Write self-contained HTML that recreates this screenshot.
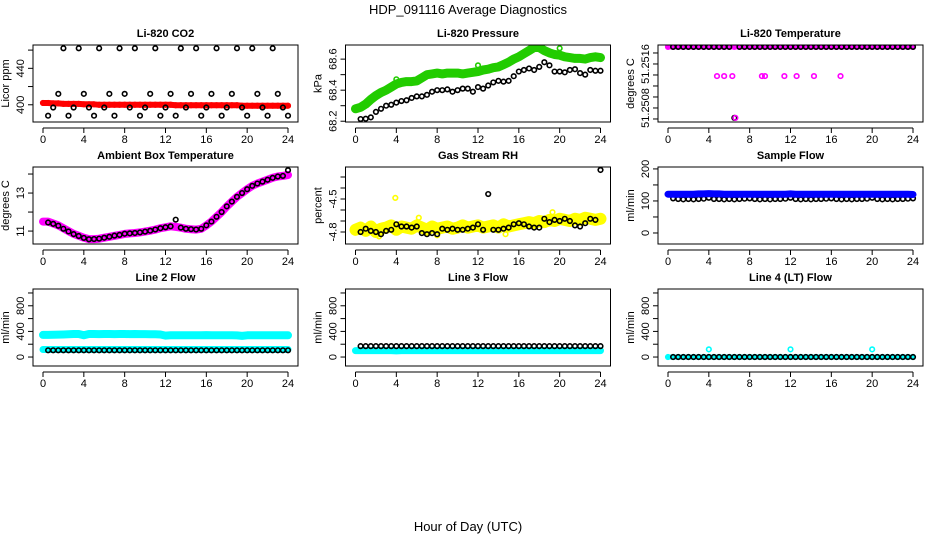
<!DOCTYPE html>
<html><head><meta charset="utf-8"><style>
body{margin:0;background:#fff}
svg{display:block;font-family:"Liberation Sans",sans-serif}
</style></head><body>
<svg id="c" width="936" height="540">
<text x="468" y="14" text-anchor="middle" font-size="13">HDP_091116  Average Diagnostics</text>
<text x="468" y="531" text-anchor="middle" font-size="13">Hour of Day (UTC)</text>
</svg>
<script>
const hoursDense=[0,0.5,1,1.5,2,2.5,3,3.5,4,4.5,5,5.5,6,6.5,7,7.5,8,8.5,9,9.5,10,10.5,11,11.5,12,12.5,13,13.5,14,14.5,15,15.5,16,16.5,17,17.5,18,18.5,19,19.5,20,20.5,21,21.5,22,22.5,23,23.5,24];
const hoursAvg=[0.5,1,1.5,2,2.5,3,3.5,4,4.5,5,5.5,6,6.5,7,7.5,8,8.5,9,9.5,10,10.5,11,11.5,12,12.5,13,13.5,14,14.5,15,15.5,16,16.5,17,17.5,18,18.5,19,19.5,20,20.5,21,21.5,22,22.5,23,23.5,24];
const xTicks=[0,4,8,12,16,20,24];
// CO2
const co2Dense=[402,402,401.5,401.5,401,401,401,401,400.5,400.5,400.5,400,400,400,400,400,400,400,400,400,400,400,400,400,400,400,399.5,399.5,399.5,399.5,399.5,399.5,399.5,399.5,399.5,399.5,399.5,399.5,399.5,399,399,399,399,399,399,399,399,399,399];
const co2Avg=[388,397,412,462,388,397,462,412,397,388,462,397,412,388,462,412,397,462,388,397,412,462,388,397,412,388,462,397,412,462,388,397,412,462,388,397,412,462,397,388,462,412,397,388,462,412,397,388];
// Pressure
const presDense=[68.28,68.29,68.31,68.34,68.365,68.385,68.40,68.42,68.44,68.45,68.455,68.455,68.46,68.48,68.50,68.505,68.51,68.505,68.51,68.51,68.51,68.505,68.51,68.515,68.52,68.53,68.535,68.545,68.55,68.565,68.58,68.60,68.615,68.635,68.655,68.675,68.675,68.655,68.64,68.63,68.625,68.615,68.61,68.605,68.605,68.60,68.61,68.615,68.61];
const presAvg=[68.214,68.216,68.225,68.26,68.28,68.30,68.306,68.32,68.33,68.335,68.35,68.36,68.36,68.37,68.39,68.40,68.40,68.405,68.39,68.40,68.41,68.41,68.39,68.42,68.41,68.43,68.45,68.46,68.455,68.46,68.49,68.52,68.53,68.54,68.53,68.55,68.58,68.56,68.52,68.52,68.515,68.53,68.535,68.51,68.50,68.53,68.525,68.525];
// Temperature
const tempDense=[51.25191,51.25191,51.25191,51.25191,51.25191,51.25191,51.25191,51.25191,51.25191,51.25191,51.25191,51.25191,51.25191,51.25191,51.25191,51.25191,51.25191,51.25191,51.25191,51.25191,51.25191,51.25191,51.25191,51.25191,51.25191,51.25191,51.25191,51.25191,51.25191,51.25191,51.25191,51.25191,51.25191,51.25191,51.25191,51.25191,51.25191,51.25191,51.25191,51.25191,51.25191,51.25191,51.25191,51.25191,51.25191,51.25191,51.25191,51.25191,51.25191];
const tempMidHours=[4.8,5.5,6.3,9.2,9.5,11.4,12.6,14.3,16.9,6.6];
const tempMidVals=[51.25138,51.25138,51.25138,51.25138,51.25138,51.25138,51.25138,51.25138,51.25138,51.25062];
const tempAvg=[51.25191,51.25191,51.25191,51.25191,51.25191,51.25191,51.25191,51.25191,51.25191,51.25191,51.25191,51.25191,51.25062,51.25191,51.25191,51.25191,51.25191,51.25191,51.25191,51.25191,51.25191,51.25191,51.25191,51.25191,51.25191,51.25191,51.25191,51.25191,51.25191,51.25191,51.25191,51.25191,51.25191,51.25191,51.25191,51.25191,51.25191,51.25191,51.25191,51.25191,51.25191,51.25191,51.25191,51.25191,51.25191,51.25191,51.25191,51.25191];
// Ambient
const ambDense=[11.5,11.5,11.4,11.3,11.15,11.0,10.85,10.75,10.65,10.58,10.58,10.6,10.65,10.7,10.75,10.8,10.85,10.88,10.9,10.93,10.97,11.02,11.08,11.15,11.2,11.25,11.22,11.18,11.12,11.1,11.08,11.12,11.3,11.5,11.75,12.0,12.3,12.55,12.8,13.0,13.2,13.38,13.5,13.6,13.7,13.8,13.87,13.9,13.95];
const ambAvg=[11.45,11.38,11.28,11.12,10.98,10.84,10.74,10.64,10.57,10.58,10.6,10.65,10.7,10.76,10.8,10.86,10.88,10.9,10.93,10.97,11.02,11.08,11.15,11.2,11.25,11.6,11.18,11.12,11.1,11.08,11.12,11.3,11.5,11.75,12.0,12.3,12.55,12.8,13.0,13.2,13.38,13.5,13.6,13.7,13.8,13.87,13.9,14.2];
// RH
const rhDense=[-4.78,-4.76,-4.79,-4.75,-4.80,-4.77,-4.76,-4.74,-4.78,-4.75,-4.76,-4.77,-4.74,-4.76,-4.78,-4.75,-4.77,-4.76,-4.75,-4.77,-4.76,-4.74,-4.76,-4.75,-4.74,-4.76,-4.75,-4.74,-4.76,-4.73,-4.75,-4.74,-4.73,-4.72,-4.71,-4.72,-4.70,-4.71,-4.69,-4.70,-4.68,-4.69,-4.70,-4.68,-4.69,-4.67,-4.68,-4.69,-4.68];
const rhExtraHours=[3.9,1.5,6.2,2.3,14.7,8.0,19.3];
const rhExtraVals=[-4.49,-4.73,-4.67,-4.84,-4.82,-4.83,-4.62];
const rhAvg=[-4.80,-4.77,-4.79,-4.80,-4.82,-4.79,-4.78,-4.73,-4.75,-4.75,-4.76,-4.75,-4.81,-4.82,-4.81,-4.82,-4.77,-4.78,-4.77,-4.78,-4.78,-4.77,-4.76,-4.73,-4.78,-4.455,-4.78,-4.78,-4.77,-4.76,-4.73,-4.72,-4.73,-4.75,-4.76,-4.76,-4.68,-4.71,-4.69,-4.70,-4.68,-4.70,-4.74,-4.75,-4.72,-4.68,-4.69,-4.236];
// Sample flow
const sfDense=[121,121,121,121,121,121,122,122,123,122,122,121,121,121,121,121,121,121,121,121,121,121,121,121,122,121,121,121,121,121,121,121,121,121,121,121,121,121,121,121,121,121,121,121,121,121,121,121,120];
const sfAvg=[108,106,105,106,105,106,107,110,106,106,105,106,105,106,107,108,106,105,106,105,106,106,107,110,106,105,106,105,106,106,107,108,106,105,106,105,106,106,107,110,106,105,106,105,106,106,107,108];
// Line 2
const l2Upper=[345,345,348,350,352,355,360,360,340,360,360,358,360,360,358,360,360,358,360,358,358,356,355,352,335,340,340,340,340,340,340,340,342,340,340,340,340,340,338,330,340,340,340,340,340,340,340,340,340];
const l2Lower=[118,118,118,118,118,118,118,118,118,118,118,118,118,118,118,118,118,118,118,118,118,118,118,118,118,118,118,118,118,118,118,118,118,118,118,118,118,118,118,118,118,118,118,118,118,118,118,118,118];
const l2Avg=[105,105,105,105,105,105,105,105,105,105,105,105,105,105,105,105,105,105,105,105,105,105,105,105,105,105,105,105,105,105,105,105,105,105,105,105,105,105,105,105,105,105,105,105,105,105,105,105];
// Line 3
const l3Dense=[100,100,100,100,100,100,100,100,95,100,100,100,100,100,100,100,100,100,100,100,100,100,100,100,100,100,100,100,100,100,100,100,100,100,100,100,100,100,100,100,100,100,100,100,100,100,100,100,100];
const l3Avg=[170,170,170,170,170,170,170,170,170,170,170,170,170,170,170,170,170,170,170,170,170,170,170,170,170,170,170,170,170,170,170,170,170,170,170,170,170,170,170,170,170,170,170,170,170,170,170,170];
// Line 4
const l4Dense=[0,0,0,0,0,0,0,0,0,0,0,0,0,0,0,0,0,0,0,0,0,0,0,0,0,0,0,0,0,0,0,0,0,0,0,0,0,0,0,0,0,0,0,0,0,0,0,0,0];
const l4ExtraHours=[4,12,20];
const l4ExtraVals=[120,120,120];
const l4Avg=[0,0,0,0,0,0,0,0,0,0,0,0,0,0,0,0,0,0,0,0,0,0,0,0,0,0,0,0,0,0,0,0,0,0,0,0,0,0,0,0,0,0,0,0,0,0,0,0];

const NS='http://www.w3.org/2000/svg';
const svg=document.getElementById('c');
function mk(tag,attrs,parent){const e=document.createElementNS(NS,tag);for(const k in attrs)e.setAttribute(k,attrs[k]);(parent||svg).appendChild(e);return e;}

const panels=[
 {id:'co2',title:'Li-820 CO2',ylab:'Licor ppm',col:0,row:0,ymin:381.1,ymax:465.6,ticks:[400,420,440,460],labels:[400,440],fmt:v=>v,
  series:[{h:hoursDense,v:co2Dense,c:'#ff0000',dense:true},{h:hoursAvg,v:co2Avg,c:'#000'}]},
 {id:'pressure',title:'Li-820 Pressure',ylab:'kPa',col:1,row:0,ymin:68.195,ymax:68.691,ticks:[68.2,68.3,68.4,68.5,68.6],labels:[68.2,68.4,68.6],fmt:v=>v.toFixed(1),
  series:[{h:hoursDense,v:presDense,c:'#22cc00',dense:true,w:9},{h:hoursAvg,v:presAvg,c:'#000'}],extra:[{h:[4,12,20],v:[68.47,68.56,68.67],c:'#22cc00'}]},
 {id:'temperature',title:'Li-820 Temperature',ylab:'degrees C',col:2,row:0,ymin:51.250545,ymax:51.251945,ticks:[51.2506,51.2508,51.251,51.2512,51.2514,51.2516,51.2518],labels:[51.2508,51.2516],fmt:v=>v.toFixed(4),
  series:[{h:hoursDense,v:tempDense,c:'#ff00ff',dense:true,w:5},{h:hoursAvg,v:tempAvg,c:'#000'}],extra:[{h:tempMidHours,v:tempMidVals,c:'#ff00ff'}]},
 {id:'ambient',title:'Ambient Box Temperature',ylab:'degrees C',col:0,row:1,ymin:10.32,ymax:14.37,ticks:[11,12,13,14],labels:[11,13],fmt:v=>v,
  series:[{h:hoursDense,v:ambDense,c:'#ff00ff',dense:true,w:8},{h:hoursAvg,v:ambAvg,c:'#000'}]},
 {id:'rh',title:'Gas Stream RH',ylab:'percent',col:1,row:1,ymin:-4.909,ymax:-4.209,ticks:[-4.8,-4.7,-4.6,-4.5,-4.4,-4.3],labels:[-4.8,-4.5],fmt:v=>v.toFixed(1),
  series:[{h:hoursDense,v:rhDense,c:'#ffff00',dense:true,w:12},{h:hoursAvg,v:rhAvg,c:'#000'}],extra:[{h:rhExtraHours,v:rhExtraVals,c:'#ffff00'}],extraFirst:true},
 {id:'sample-flow',title:'Sample Flow',ylab:'ml/min',col:2,row:1,ymin:-34.4,ymax:206,ticks:[0,50,100,150,200],labels:[0,100,200],fmt:v=>v,
  series:[{h:hoursAvg,v:sfAvg,c:'#000'},{h:hoursDense,v:sfDense,c:'#0000ff',dense:true,w:7}]},
 {id:'line2-flow',title:'Line 2 Flow',ylab:'ml/min',col:0,row:2,ymin:-140,ymax:1062,ticks:[0,200,400,600,800,1000],labels:[0,400,800],fmt:v=>v,
  series:[{h:hoursDense,v:l2Upper,c:'#00ffff',dense:true,w:8},{h:hoursDense,v:l2Lower,c:'#00ffff',dense:true,w:7},{h:hoursAvg,v:l2Avg,c:'#000'}]},
 {id:'line3-flow',title:'Line 3 Flow',ylab:'ml/min',col:1,row:2,ymin:-140,ymax:1062,ticks:[0,200,400,600,800,1000],labels:[0,400,800],fmt:v=>v,
  series:[{h:hoursDense,v:l3Dense,c:'#00ffff',dense:true,w:7},{h:hoursAvg,v:l3Avg,c:'#000'}]},
 {id:'line4-flow',title:'Line 4 (LT) Flow',ylab:'ml/min',col:2,row:2,ymin:-140,ymax:1062,ticks:[0,200,400,600,800,1000],labels:[0,400,800],fmt:v=>v,
  series:[{h:hoursDense,v:l4Dense,c:'#00ffff',dense:true,w:5},{h:hoursAvg,v:l4Avg,c:'#000'}],extra:[{h:l4ExtraHours,v:l4ExtraVals,c:'#00ffff'}]}
];

panels.forEach(p=>{
  const x0=43+312.5*p.col, pxh=245/24;
  const L=x0-10, R=x0+255, T=45+122*p.row, B=T+77;
  const xs=h=>x0+h*pxh;
  const ys=v=>B-(v-p.ymin)/(p.ymax-p.ymin)*(B-T);
  const g=mk('g',{});
  
  
  const t=mk('text',{x:(L+R)/2,y:T-8,'text-anchor':'middle','font-size':11,'font-weight':'bold'},g);
  t.textContent=p.title;
  
  
  const yl=mk('text',{x:0,y:0,transform:`translate(${L-24},${(T+B)/2}) rotate(-90)`,'text-anchor':'middle','font-size':11},g);
  yl.textContent=p.ylab;
  
  
  const clipId='clip-'+p.id;
  const cp=mk('clipPath',{id:clipId});
  mk('rect',{x:L,y:T,width:R-L,height:B-T},cp);
  const pg=mk('g',{'clip-path':`url(#${clipId})`},g);
  
  
  function drawPts(h,v,c){
    for(let i=0;i<v.length;i++){
      const ci=mk('circle',{cx:xs(h[i]),cy:ys(v[i]),r:2.3,fill:'none',stroke:c,'stroke-width':1.6},pg);
      
      
    }
  }
  function drawExtra(){ (p.extra||[]).forEach(e=>drawPts(e.h,e.v,e.c)); }
  if(p.extraFirst) drawExtra();
  p.series.forEach(s=>{
    if(s.dense){
      const pts=s.h.map((h,i)=>xs(h).toFixed(1)+','+ys(s.v[i]).toFixed(1)).join(' ');
      const pl=mk('polyline',{points:pts,fill:'none',stroke:s.c,'stroke-width':s.w||6,'stroke-linejoin':'round','stroke-linecap':'round'},pg);
      
      
    }
    drawPts(s.h,s.v,s.c);
  });
  if(!p.extraFirst) drawExtra();
  const box=mk('rect',{x:L,y:T,width:R-L,height:B-T,fill:'none',stroke:'#000','stroke-width':1},g);
  
  
  p.ticks.forEach(v=>{
    const y=ys(v);
    if(y<T-0.5||y>B+0.5) return;
    const tk=mk('line',{x1:L-5,x2:L,y1:y,y2:y,stroke:'#000'},g);
    
    
  });
  p.labels.forEach(v=>{
    const y=ys(v);
    const lt=mk('text',{x:0,y:0,transform:`translate(${L-9},${y}) rotate(-90)`,'text-anchor':'middle','font-size':11},g);
    lt.textContent=p.fmt(v);
    
    
  });
  const ax=mk('line',{x1:xs(0),x2:xs(24),y1:B+6,y2:B+6,stroke:'#000'},g);
  
  
  xTicks.forEach(h=>{
    const tk=mk('line',{x1:xs(h),x2:xs(h),y1:B+6,y2:B+11,stroke:'#000'},g);
    
    
    const lt=mk('text',{x:xs(h),y:B+21,'text-anchor':'middle','font-size':11},g);
    lt.textContent=h;
    
    
  });
});
</script>
</body></html>
